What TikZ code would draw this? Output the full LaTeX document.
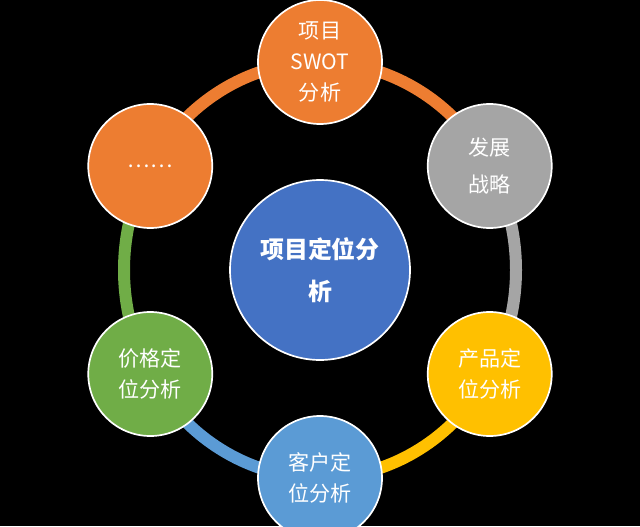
\documentclass[tikz,border=0pt]{standalone}
\usepackage{fontspec}
\setmainfont{Noto Sans CJK SC}
\usetikzlibrary{calc}
\definecolor{corange}{HTML}{ED7D31}
\definecolor{cgray}{HTML}{A5A5A5}
\definecolor{cgold}{HTML}{FFC000}
\definecolor{cblue}{HTML}{5B9BD5}
\definecolor{cgreen}{HTML}{70AD47}
\definecolor{cdeep}{HTML}{4472C4}
\tikzset{
  outer/.style={circle,draw=white,line width=1.2pt,minimum size=3.1cm,inner sep=0pt,
    text=white,align=center,font=\fontsize{15}{22}\selectfont},
  ring/.style={line width=0.3cm}
}
\begin{document}
\begin{tikzpicture}
\fill[black] (0,0) rectangle (16,13.15);
\useasboundingbox (0,0) rectangle (16,13.15);
\coordinate (c) at (8,6.4);
% ring segments
\draw[ring,corange] (c) ++({4.9*cos(90)},{5.2*sin(90)}) arc[start angle=90,end angle=30,x radius=4.9,y radius=5.2];
\draw[ring,cgray] (c) ++({4.9*cos(30)},{5.2*sin(30)}) arc[start angle=30,end angle=-30,x radius=4.9,y radius=5.2];
\draw[ring,cgold] (c) ++({4.9*cos(-30)},{5.2*sin(-30)}) arc[start angle=-30,end angle=-90,x radius=4.9,y radius=5.2];
\draw[ring,cblue] (c) ++({4.9*cos(-90)},{5.2*sin(-90)}) arc[start angle=-90,end angle=-150,x radius=4.9,y radius=5.2];
\draw[ring,cgreen] (c) ++({4.9*cos(210)},{5.2*sin(210)}) arc[start angle=210,end angle=150,x radius=4.9,y radius=5.2];
\draw[ring,corange] (c) ++({4.9*cos(150)},{5.2*sin(150)}) arc[start angle=150,end angle=90,x radius=4.9,y radius=5.2];
% nodes
\node[circle,draw=white,line width=1.2pt,fill=cdeep,minimum size=4.5cm,text=white,align=center,
  font=\bfseries\fontsize{17}{30}\selectfont] (center) at (c) {项目定位分\\析};
\node[outer,fill=corange] (swot) at ($(c)+({4.9*cos(90)},{5.2*sin(90)})$) {项目\\SWOT\\分析};
\node[outer,fill=cgray] (dev) at ($(c)+({4.9*cos(30)},{5.2*sin(30)})$) {发展\\[4pt]战略};
\node[outer,fill=cgold] (prod) at ($(c)+({4.9*cos(-30)},{5.2*sin(-30)})$) {产品定\\位分析};
\node[outer,fill=cblue] (cust) at ($(c)+({4.9*cos(-90)},{5.2*sin(-90)})$) {客户定\\位分析};
\node[outer,fill=cgreen] (price) at ($(c)+({4.9*cos(210)},{5.2*sin(210)})$) {价格定\\位分析};
\node[outer,fill=corange] (more) at ($(c)+({4.9*cos(150)},{5.2*sin(150)})$) {……};
\end{tikzpicture}
\end{document}
